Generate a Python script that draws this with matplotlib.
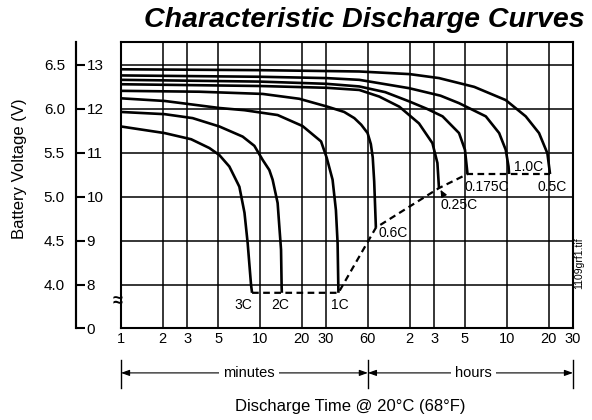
import matplotlib
matplotlib.use('Agg')
import matplotlib.pyplot as plt
import matplotlib.transforms as mtransforms
from matplotlib.ticker import NullLocator

plt.rcParams['font.family'] = ['Liberation Sans', 'DejaVu Sans']

# ---------------- data (time in minutes, voltage on 12 V scale) ----------------
t_3C = [1.0, 2.06, 3.2, 4.33, 5.11, 6.03, 6.92, 7.12, 7.75, 8.17, 8.64, 8.79]
v_3C = [11.60, 11.45, 11.31, 11.11, 10.95, 10.69, 10.31, 10.23, 9.64, 8.95, 8.00, 7.82]

t_2C = [1.0, 2.06, 3.28, 5.11, 7.52, 9.13, 10.48, 11.7, 12.36, 13.43, 13.81, 14.21, 14.35, 14.40]
v_2C = [11.93, 11.88, 11.79, 11.60, 11.37, 11.16, 10.84, 10.61, 10.39, 9.86, 9.33, 8.80, 7.96, 7.82]

t_1C = [1.0, 2.06, 5.11, 7.75, 13.43, 20.3, 27.6, 30.3, 33.4, 35.3, 36.3, 36.7, 36.8]
v_1C = [12.24, 12.18, 12.02, 11.97, 11.86, 11.61, 11.26, 10.89, 10.39, 9.70, 8.95, 8.05, 7.82]

t_06C = [1.0, 3.67, 10.48, 19.2, 30.7, 40.5, 47.9, 53.7, 59.7, 63.0, 65.0, 66.6, 68.5]
v_06C = [12.41, 12.39, 12.34, 12.23, 12.05, 11.93, 11.79, 11.64, 11.45, 11.20, 10.90, 10.35, 9.30]

t_025C = [1.0, 10.0, 30.0, 52.0, 72.4, 101.0, 140.0, 175.0, 190.0, 195.0]
v_025C = [12.56, 12.52, 12.48, 12.43, 12.28, 12.05, 11.67, 11.22, 10.77, 10.20]

t_0175C = [1.0, 10.0, 30.0, 52.0, 80.0, 119.0, 160.0, 207.0, 272.0, 300.0, 313.0]
v_0175C = [12.66, 12.62, 12.57, 12.51, 12.38, 12.17, 12.00, 11.83, 11.45, 11.07, 10.52]

t_10C = [1.0, 10.0, 30.0, 52.0, 119.0, 200.0, 272.0, 424.0, 529.0, 590.0, 618.0, 624.0]
v_10C = [12.76, 12.73, 12.70, 12.66, 12.47, 12.30, 12.13, 11.83, 11.45, 11.07, 10.69, 10.52]

t_05C = [1.0, 10.0, 52.0, 120.0, 195.0, 350.0, 590.0, 822.0, 1025.0, 1177.0, 1230.0]
v_05C = [12.90, 12.88, 12.85, 12.79, 12.70, 12.50, 12.20, 11.83, 11.45, 10.99, 10.52]

t_cutoff = [8.79, 36.8, 68.5, 195.0, 313.0, 1230.0]
v_cutoff = [7.82, 7.82, 9.30, 10.20, 10.52, 10.52]

x_ticks = [1, 2, 3, 5, 10, 20, 30, 60, 120, 180, 300, 600, 1200, 1800]
x_ticklabels = ['1', '2', '3', '5', '10', '20', '30', '60', '2', '3', '5', '10', '20', '30']
v12_ticks = [13, 12, 11, 10, 9, 8]
v12_labels = ['13', '12', '11', '10', '9', '8']
v6_labels = ['6.5', '6.0', '5.5', '5.0', '4.5', '4.0']

curves = [
    ('3C', t_3C, v_3C), ('2C', t_2C, v_2C), ('1C', t_1C, v_1C),
    ('0.6C', t_06C, v_06C), ('0.25C', t_025C, v_025C), ('0.175C', t_0175C, v_0175C),
    ('1.0C', t_10C, v_10C), ('0.5C', t_05C, v_05C),
]

# label positions (time, volts)
label_pos = {
    '3C': (7.61, 7.55), '2C': (14.04, 7.55), '1C': (37.9, 7.55),
    '0.6C': (91.3, 9.18), '0.25C': (272, 9.82), '0.175C': (433, 10.23),
    '1.0C': (855, 10.68), '0.5C': (1271, 10.23),
}

YMIN, YMAX = 7.02, 13.52

# ---------------- figure ----------------
fig = plt.figure(figsize=(5.92, 4.2), dpi=100)
ax = fig.add_axes([121 / 592, 1 - 328 / 420, 452 / 592, 286 / 420])

ax.set_xscale('log')
ax.set_xlim(1, 1800)
ax.set_ylim(YMIN, YMAX)

for name, t, v in curves:
    ax.plot(t, v, color='black', lw=1.9, solid_capstyle='butt', solid_joinstyle='round', zorder=3)

ax.plot(t_cutoff, v_cutoff, color='black', lw=1.6, linestyle=(0, (3, 2)), zorder=3)

for name, (tx, vy) in label_pos.items():
    if name == '0.25C':
        continue
    ax.text(tx, vy, name, ha='center', va='center', fontsize=10, zorder=4)

ax.annotate('0.25C', xy=(200, 10.16), xytext=(272, 9.82), ha='center', va='center',
            fontsize=10, zorder=4,
            arrowprops=dict(arrowstyle='-|>,head_length=0.4,head_width=0.18', color='black',
                            lw=0.9, relpos=(0.12, 1.0), shrinkA=1, shrinkB=0))

ax.set_xticks(x_ticks, labels=x_ticklabels)
ax.xaxis.set_minor_locator(NullLocator())
ax.set_yticks(v12_ticks)
ax.yaxis.set_minor_locator(NullLocator())
ax.tick_params(axis='x', length=0, pad=3, labelsize=10.5)
ax.tick_params(axis='y', length=0, labelleft=False)
ax.grid(True, which='major', color='black', lw=1.1, zorder=1)
for s in ax.spines.values():
    s.set_linewidth(1.5)

# outer axis with 12V / 6V labels
loc = (76 - 121) / 452
sec_r = ax.secondary_yaxis(loc)
sec_r.set_alignment('right')
sec_r.set_ticks(v12_ticks + [YMIN], labels=v12_labels + ['0'])
sec_r.tick_params(axis='y', direction='out', length=6.5, width=1.5, pad=1, labelsize=11)
for s in sec_r.spines.values():
    s.set_linewidth(1.5)

sec_l = ax.secondary_yaxis(loc)
sec_l.set_ticks(v12_ticks, labels=v6_labels)
sec_l.tick_params(axis='y', length=0, pad=8, labelsize=11)
for s in sec_l.spines.values():
    s.set_linewidth(1.5)

# axis break symbol
tr_ax_data = mtransforms.blended_transform_factory(ax.transAxes, ax.transData)
ax.text(-0.007, 7.61, '≈', transform=tr_ax_data, ha='center', va='center',
        fontsize=13, fontweight='bold', clip_on=False, zorder=5)

# minutes / hours spans
tr = mtransforms.blended_transform_factory(ax.transData, ax.transAxes)
y_top, y_bot, y_mid = -0.112, -0.21, -0.157
for t in (1, 60, 1800):
    ax.plot([t, t], [y_top, y_bot], transform=tr, color='black', lw=1.0, clip_on=False)
for a, b, label, c in ((1, 60, 'minutes', 8.4), (60, 1800, 'hours', 344)):
    ax.annotate('', xy=(a, y_mid), xytext=(b, y_mid), xycoords=tr, textcoords=tr,
                arrowprops=dict(arrowstyle='<|-|>,head_length=0.5,head_width=0.18',
                                color='black', lw=0.8, shrinkA=0, shrinkB=0))
    ax.text(c, y_mid, label, transform=tr, ha='center', va='center', fontsize=10.5,
            bbox=dict(facecolor='white', edgecolor='none', pad=3))

# texts
fig.text(364 / 592, 1 - 27 / 420, 'Characteristic Discharge Curves', ha='center',
         va='baseline', fontsize=20.5, fontweight='bold', fontstyle='italic')
fig.text(20 / 592, 1 - 169 / 420, 'Battery Voltage (V)', rotation=90, ha='center',
         va='center', fontsize=12)
fig.text(350 / 592, 1 - 407 / 420, 'Discharge Time @ 20°C (68°F)', ha='center',
         va='center', fontsize=12)
fig.text(579.5 / 592, 1 - 263 / 420, '1109grf1.tif', rotation=90, ha='center',
         va='center', fontsize=7.5)

fig.savefig('out.png', dpi=100, facecolor='white')
